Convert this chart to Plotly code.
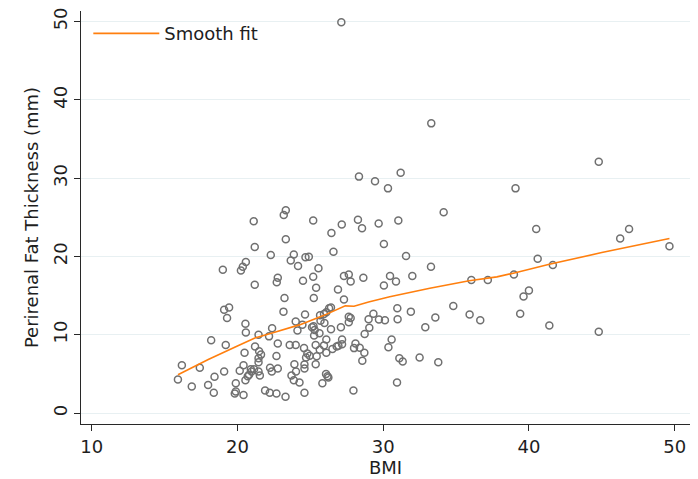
import plotly.graph_objects as go

bmi = [27.13, 33.3, 44.79, 46.26, 46.87, 49.64, 41.64, 41.4, 44.79, 34.15, 39.08, 40.5, 40.6, 33.28,
       36.05, 37.18, 38.97, 39.63, 40.0, 34.81, 33.58, 32.89, 35.93, 36.66, 39.4, 32.5, 33.78,
       28.34, 29.44, 31.2, 30.33, 25.2, 27.16, 28.27, 28.55, 29.69, 31.04, 26.45, 30.05, 26.59, 31.57,
       23.87, 23.66, 24.67, 24.9, 24.16, 25.56, 24.5, 25.2, 27.31, 27.64, 27.77, 28.64, 30.47, 30.88,
       32.0, 30.05,
       23.32, 23.18, 21.12, 23.32, 21.19, 22.29, 20.58, 20.37, 20.24, 19.0, 22.77, 22.7, 21.19,
       23.23, 23.16, 19.09, 19.43, 19.29, 20.55, 20.58, 24.0, 24.12, 22.38, 21.45, 22.17, 18.2, 19.2,
       21.21, 22.77, 23.59, 24.0, 21.49, 21.62, 21.45, 22.68, 21.45, 20.49, 23.91, 24.02, 23.71, 23.87,
       24.26, 16.19, 17.42, 15.92, 16.87, 18.43, 19.09, 17.99, 18.38, 20.42, 20.16, 20.92, 21.14, 20.8,
       20.97, 20.71, 21.45, 21.54, 22.24, 22.77, 22.36, 20.55, 19.89, 19.89, 19.82, 20.42, 21.9, 22.22,
       22.68, 23.3,
       25.4, 26.9, 27.31, 25.24, 24.64, 24.46, 25.67, 25.94, 26.1, 26.29, 26.42, 25.97, 25.7, 25.12,
       25.22, 25.3, 25.26, 25.63, 26.42, 27.1, 27.64, 27.77, 27.64, 28.73, 29.05, 29.0, 29.33, 29.71,
       30.12, 30.97, 30.99, 31.9, 24.57, 24.8, 24.96, 24.71, 25.37, 25.44, 25.65, 25.94, 26.1, 26.1,
       26.52, 26.81, 26.93, 27.18, 27.18, 28.0, 28.1, 28.39, 28.71, 28.57, 30.36, 30.58, 31.11, 31.34,
       24.6, 24.6, 25.37, 24.6, 25.83, 26.08, 26.18, 26.24, 27.96, 30.95]

fat = [49.9, 37.0, 32.1, 22.3, 23.5, 21.3, 18.9, 11.2, 10.4, 25.66, 28.7, 23.5, 19.7, 18.7,
       17.0, 17.0, 17.7, 14.9, 15.66, 13.67, 12.2, 10.97, 12.58, 11.86, 12.7, 7.09, 6.5,
       30.2, 29.6, 30.7, 28.7, 24.6, 24.1, 24.7, 23.6, 24.2, 24.6, 23.0, 21.6, 20.6, 20.05,
       20.25, 19.5, 19.9, 19.96, 18.8, 18.5, 16.9, 17.4, 17.5, 17.7, 16.8, 17.3, 17.5, 16.8,
       17.5, 16.3,
       25.9, 25.3, 24.5, 22.2, 21.2, 20.2, 19.3, 18.7, 18.2, 18.3, 17.3, 16.7, 16.4,
       14.7, 12.96, 13.2, 13.5, 12.15, 11.4, 10.3, 11.7, 10.55, 10.85, 10.0, 9.8, 9.3, 8.7,
       8.5, 8.9, 8.7, 8.7, 7.9, 7.47, 7.0, 7.3, 6.5, 7.7, 6.25, 5.3, 4.8, 4.2,
       3.9, 6.1, 5.8, 4.3, 3.4, 4.65, 5.3, 3.6, 2.6, 6.1, 5.4, 5.6, 5.6, 4.9,
       5.3, 4.7, 5.3, 4.8, 5.8, 5.7, 5.3, 4.2, 3.8, 2.75, 2.5, 2.3, 2.9, 2.6,
       2.5, 2.1,
       16.0, 15.8, 14.5, 14.7, 12.6, 11.3, 12.5, 12.66, 12.87, 13.4, 13.5, 11.5, 11.8, 10.97,
       11.1, 10.6, 9.9, 10.2, 10.7, 10.97, 12.3, 12.15, 11.6, 10.1, 10.9, 12.0, 12.7, 11.95,
       11.86, 13.4, 12.0, 12.96, 8.3, 7.6, 7.34, 7.1, 8.7, 7.26, 8.1, 8.65, 9.4, 7.7,
       8.2, 8.5, 8.6, 9.4, 8.8, 8.3, 8.9, 8.35, 7.7, 6.7, 8.4, 9.4, 7.0, 6.6,
       6.2, 5.7, 6.25, 2.6, 3.8, 5.0, 4.7, 4.56, 2.9, 3.9]

fit_x = [15.92, 18.0, 20.0, 21.2, 22.5, 24.3, 25.9, 27.0, 27.4, 28.0, 29.0, 30.45, 32.0, 33.2,
         35.9, 37.8, 39.0, 41.4, 45.0, 49.64]
fit_y = [4.9, 6.85, 8.58, 9.6, 10.3, 11.3, 12.45, 13.3, 13.7, 13.65, 14.2, 14.86, 15.5, 15.95,
         16.9, 17.4, 17.9, 19.0, 20.5, 22.3]

x_ticks = [10, 20, 30, 40, 50]
y_ticks = [0, 10, 20, 30, 40, 50]

FONT = "DejaVu Sans"
FS = 18

fig = go.Figure()
fig.add_trace(go.Scatter(
    x=bmi, y=fat, mode="markers", showlegend=False,
    marker=dict(symbol="circle-open", size=7, color="rgb(112,112,112)",
                line=dict(width=1.5, color="rgb(112,112,112)")),
))
fig.add_trace(go.Scatter(
    x=fit_x, y=fit_y, mode="lines", name="Smooth fit",
    line=dict(color="rgb(255,127,14)", width=1.6),
))

fig.update_layout(
    width=698, height=479,
    margin=dict(l=81, r=8, t=11, b=51),
    paper_bgcolor="white", plot_bgcolor="white",
    font=dict(family=FONT, size=FS, color="rgb(30,30,30)"),
    legend=dict(x=0.012, y=0.99, xanchor="left", yanchor="top",
                bgcolor="rgba(0,0,0,0)", font=dict(size=FS), itemwidth=66),
)
fig.update_xaxes(
    range=[9.27, 51.05], tickvals=x_ticks, ticktext=[str(v) for v in x_ticks],
    showgrid=False, zeroline=False,
    showline=True, linecolor="rgb(40,40,40)", linewidth=1.2,
    ticks="outside", ticklen=6, tickcolor="rgb(40,40,40)",
    title=dict(text="BMI", standoff=2, font=dict(size=FS)),
    tickfont=dict(size=FS),
)
fig.update_yaxes(
    range=[-1.39, 51.35], tickvals=y_ticks, ticktext=[str(v) for v in y_ticks],
    showgrid=True, gridcolor="rgb(232,240,242)", gridwidth=1.2, zeroline=False,
    showline=True, linecolor="rgb(40,40,40)", linewidth=1.2,
    ticks="outside", ticklen=6, tickcolor="rgb(40,40,40)", tickangle=-90,
    title=dict(text="Perirenal Fat Thickness (mm)", standoff=6, font=dict(size=FS)),
    tickfont=dict(size=FS),
)

fig.write_html("out.html")
